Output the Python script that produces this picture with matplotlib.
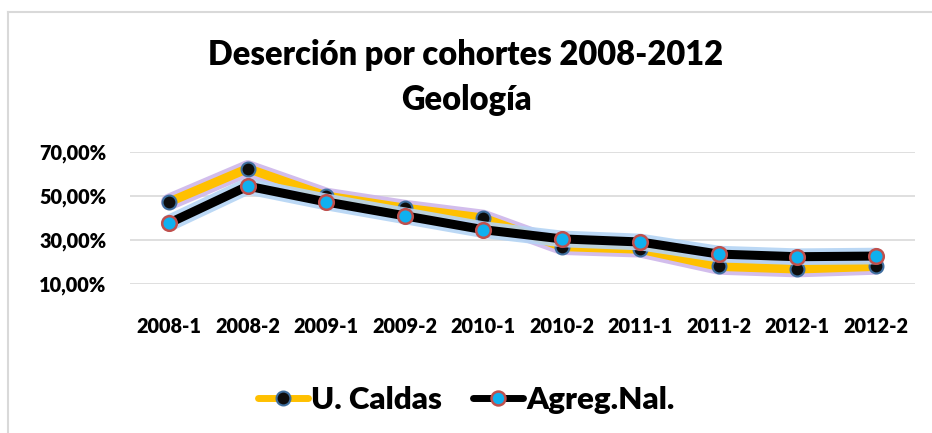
import matplotlib
matplotlib.use("Agg")
import matplotlib.pyplot as plt
import matplotlib.patheffects as pe
from matplotlib.lines import Line2D
from matplotlib.ticker import FuncFormatter

categories = ["2008-1", "2008-2", "2009-1", "2009-2", "2010-1",
              "2010-2", "2011-1", "2011-2", "2012-1", "2012-2"]
u_caldas = [47.3, 62.5, 50.0, 44.5, 40.0, 27.0, 25.8, 18.0, 16.8, 18.0]
agreg_nal = [37.7, 54.5, 47.3, 41.0, 34.7, 30.5, 29.1, 23.6, 22.4, 22.7]
yticks = [10, 30, 50, 70]

plt.rcParams['font.family'] = ['Lato', 'DejaVu Sans']
W = 'heavy'
plt.rcParams['font.weight'] = W

fig = plt.figure(figsize=(9.32, 4.33), dpi=100)
ax = fig.add_axes([130/932, 1-284/433, 785/932, 132/433])

x = list(range(len(categories)))

glow_u = [pe.Stroke(linewidth=12, foreground='#cdb6ea', alpha=0.9), pe.Normal()]
glow_a = [pe.Stroke(linewidth=12, foreground='#b4d4f4', alpha=0.9), pe.Normal()]

ax.plot(x, u_caldas, color='#ffc000', lw=6.5, solid_capstyle='round', zorder=3,
        path_effects=glow_u)
ax.plot(x, u_caldas, ls='none', marker='o', ms=10, mfc='#0d0d0d', mec='#3f6f9f',
        mew=1.5, zorder=4)
ax.plot(x, agreg_nal, color='#000000', lw=6.5, solid_capstyle='round', zorder=5,
        path_effects=glow_a)
ax.plot(x, agreg_nal, ls='none', marker='o', ms=10.5, mfc='#0fb0ef', mec='#c0504d',
        mew=1.8, zorder=6)

ax.set_xlim(-0.5, len(categories) - 0.5)
ax.set_ylim(10, 70)
ax.set_yticks(yticks)
ax.yaxis.set_major_formatter(FuncFormatter(lambda v, p: f"{v:.2f}".replace('.', ',') + "%"))
ax.set_xticks(x)
ax.set_xticklabels(categories)
ax.grid(axis='y', color='#d9d9d9', lw=1.2)
ax.set_axisbelow(True)
for s in ax.spines.values():
    s.set_visible(False)
ax.tick_params(length=0)
ax.tick_params(axis='y', labelsize=14.3, pad=17)
ax.tick_params(axis='x', labelsize=14.3, pad=24)
for t in ax.get_yticklabels() + ax.get_xticklabels():
    t.set_fontweight(W)

fig.text(0.5, 1-55/433, "Deserción por cohortes 2008-2012", ha='center', va='center',
         fontsize=23.5, fontweight=W)
fig.text(0.5, 1-100/433, "Geología", ha='center', va='center',
         fontsize=23.5, fontweight=W)

# chart frame (top and left edges)
fig.add_artist(Line2D([7.5/932, 7.5/932], [0, 1-11.5/433], color='#d9d9d9', lw=1.5,
                      transform=fig.transFigure))
fig.add_artist(Line2D([7.5/932, 1], [1-11.5/433, 1-11.5/433], color='#d9d9d9', lw=1.5,
                      transform=fig.transFigure))

h1 = Line2D([], [], color='#ffc000', lw=5, marker='o', ms=10, mfc='#0d0d0d',
            mec='#3f6f9f', mew=1.5, solid_capstyle='round')
h2 = Line2D([], [], color='#000000', lw=5, marker='o', ms=10, mfc='#0fb0ef',
            mec='#c0504d', mew=1.8, solid_capstyle='round')
fig.legend([h1, h2], ["U. Caldas", "Agreg.Nal."], loc='center',
           bbox_to_anchor=(0.5, 1-400/433), ncol=2, frameon=False,
           prop={'size': 22.5, 'weight': W}, handlelength=1.6,
           handletextpad=0.1, columnspacing=1.0)

fig.savefig("out.png", dpi=100)
